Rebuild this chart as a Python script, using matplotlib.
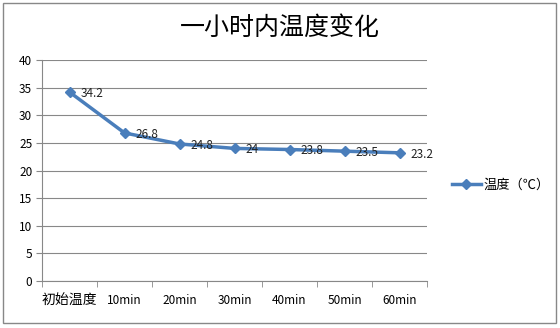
import matplotlib
matplotlib.use("Agg")
import matplotlib.pyplot as plt
from matplotlib.patches import Rectangle
import numpy as np

plt.rcParams['font.family'] = ['Noto Sans CJK SC', 'DejaVu Sans']

categories = ["初始温度", "10min", "20min", "30min", "40min", "50min", "60min"]
temps = [34.2, 26.8, 24.8, 24.0, 23.8, 23.5, 23.2]
labels = ["34.2", "26.8", "24.8", "24", "23.8", "23.5", "23.2"]
series_name = "温度（℃）"
title = "一小时内温度变化"

fig = plt.figure(figsize=(5.6, 3.28), dpi=100)
fig.patches.append(Rectangle((3/560, 5/328), 553/560, 320/328, transform=fig.transFigure,
                             fill=False, edgecolor='#888888', linewidth=1.0))
ax = fig.add_axes([42/560, 1-281/328, (427-42)/560, (281-60)/328])

x = np.arange(len(categories))
color = '#4a7ebb'
ax.plot(x, temps, color=color, linewidth=2.5, marker='D', markersize=5.5,
        markerfacecolor=color, markeredgecolor=color, label=series_name)
for xi, yi, lb in zip(x, temps, labels):
    ax.annotate(lb, (xi, yi), xytext=(8, -1), textcoords='offset points',
                fontsize=8.5, va='center', ha='left', color='#222222')

ax.set_xlim(-0.5, len(categories) - 0.5)
ax.set_ylim(0, 40)
ax.set_yticks(np.arange(0, 41, 5))
ax.set_xticks(x)
ax.set_xticklabels(categories)
ax.set_xticks(np.arange(-0.5, len(categories), 1), minor=True)
ax.tick_params(axis='x', which='major', length=0, pad=9, labelsize=8.5)
ax.tick_params(axis='x', which='minor', length=4, color='#888888')
ax.tick_params(axis='y', length=4, color='#888888', labelsize=8.5, pad=3)
for lab in ax.get_xticklabels():
    if lab.get_text() == "初始温度":
        lab.set_fontsize(10)
ax.grid(axis='y', color='#888888', linewidth=0.8)
ax.set_axisbelow(True)
for s in ['top', 'right']:
    ax.spines[s].set_visible(False)
for s in ['left', 'bottom']:
    ax.spines[s].set_color('#888888')

fig.text(0.5, 1-28/328, title, ha='center', va='center', fontsize=18)

fig.legend(loc='center left', bbox_to_anchor=(440/560, 1-185/328), frameon=False,
           fontsize=9.5, handlelength=2.2, handletextpad=0.2)

fig.savefig("out.png", dpi=100)
